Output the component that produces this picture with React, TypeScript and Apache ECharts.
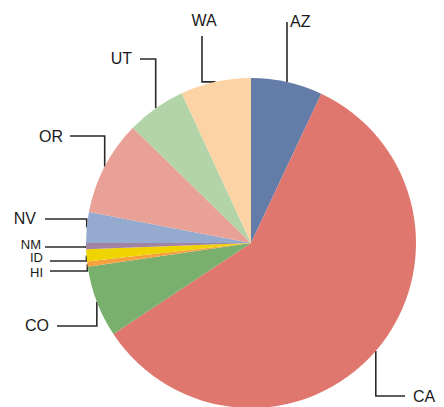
import React, { useEffect, useRef } from "react";
import * as echarts from "echarts";

const states = ["AZ", "CA", "CO", "HI", "ID", "NM", "NV", "OR", "UT", "WA"];
const shares = [7.0, 58.7, 7.0, 0.5, 1.2, 0.6, 3.0, 9.3, 5.8, 6.9];
const colors = ["#637ca8", "#e0776f", "#7ab06d", "#f7a03f", "#efd400", "#a084a4", "#94abcf", "#e9a096", "#b3d4a8", "#fcd3a4"];

// label placement: mode 'vh' = vertical then horizontal, 'hv' = horizontal then vertical
const labelPlace = [
  { mode: "vh", lineY: 22, endX: null, tx: 3, ty: -1, align: "left", fs: 16 },
  { mode: "vh", lineY: 396, endX: 405, tx: 8, ty: 0, align: "left", fs: 16 },
  { mode: "vh", lineY: 326, endX: 57, tx: -8, ty: -1, align: "right", fs: 16 },
  { mode: "vh", lineY: 271, endX: 50, tx: -7, ty: 1.5, align: "right", fs: 13 },
  { mode: "vh", lineY: 261, endX: 50, tx: -7, ty: -3.5, align: "right", fs: 13 },
  { mode: "vh", lineY: 247, endX: 45, tx: -4, ty: -3, align: "right", fs: 13 },
  { mode: "vh", lineY: 219, endX: 45, tx: -9, ty: -1, align: "right", fs: 16 },
  { mode: "vh", lineY: 136, endX: 70, tx: -7, ty: 0, align: "right", fs: 16 },
  { mode: "vh", lineY: 59, endX: 140, tx: -8, ty: -1, align: "right", fs: 16 },
  { mode: "hv", lineY: 36, endX: 202, tx: 2, ty: -16, align: "center", fs: 16 },
];

const CX = 251;
const CY = 243;
const R = 165;

export default function App() {
  const ref = useRef<HTMLDivElement>(null);
  useEffect(() => {
    if (!ref.current) return;
    const chart = echarts.init(ref.current, null, { renderer: "svg" });
    const total = shares.reduce((a, b) => a + b, 0);
    const mids: number[] = [];
    let cum = 0;
    shares.forEach((v) => {
      const a = (v / total) * 360;
      mids.push(cum + a / 2);
      cum += a;
    });
    chart.setOption({
      animation: false,
      series: [
        {
          type: "pie",
          center: [CX, CY],
          radius: R,
          startAngle: 90,
          clockwise: true,
          avoidLabelOverlap: false,
          data: states.map((s, i) => ({
            name: s,
            value: shares[i],
            itemStyle: { color: colors[i] },
            label: { fontSize: labelPlace[i].fs },
          })),
          itemStyle: { borderWidth: 0 },
          emphasis: { disabled: true },
          label: {
            show: true,
            position: "outside",
            formatter: "{b}",
            fontSize: 16,
            fontFamily: "Liberation Sans, Arial, sans-serif",
            color: "#1a1a1a",
          },
          labelLine: { show: true, lineStyle: { color: "#2a2a2a", width: 1.6 } },
          labelLayout: (params: any) => {
            const i = params.dataIndex;
            const p = labelPlace[i];
            const ang = (mids[i] * Math.PI) / 180;
            const ex = CX + R * Math.sin(ang);
            const ey = CY - R * Math.cos(ang);
            let pts: number[][];
            let lx: number;
            let ly: number;
            if (p.mode === "vh") {
              const endX = p.endX == null ? ex : p.endX;
              pts = [[ex, ey], [ex, p.lineY], [endX, p.lineY]];
              lx = endX + p.tx;
              ly = p.lineY + p.ty;
            } else {
              const endX = p.endX as number;
              pts = [[ex, ey], [endX, ey], [endX, p.lineY]];
              lx = endX + p.tx;
              ly = p.lineY + p.ty;
            }
            return {
              x: lx,
              y: ly,
              align: p.align,
              verticalAlign: "middle",
              labelLinePoints: pts,
            };
          },
        },
      ],
    });
    return () => chart.dispose();
  }, []);
  return (
    <div
      ref={ref}
      style={{ width: 444, height: 407, position: "absolute", left: 0, top: 0 }}
    />
  );
}
